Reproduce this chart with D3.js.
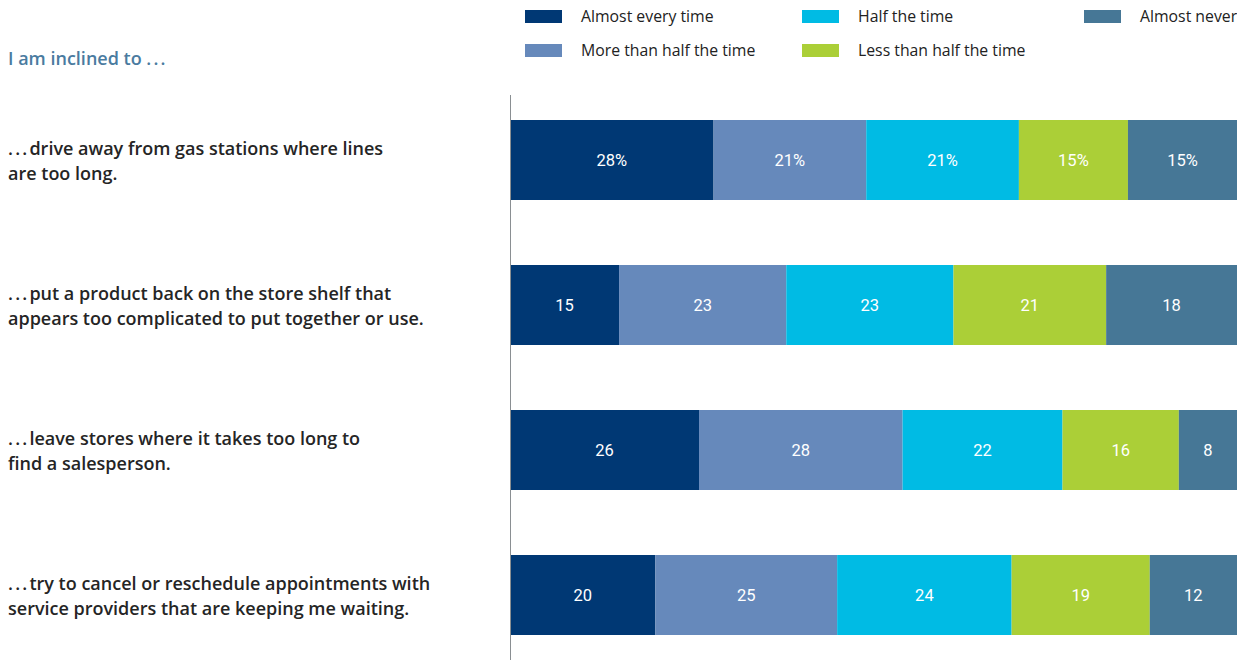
<!DOCTYPE html>
<html>
<head>
<meta charset="utf-8">
<script src="https://cdn.jsdelivr.net/npm/d3@7"></script>
<style>
  body { margin: 0; background: #fff; }
  svg { display: block; }
  .row-label { font-family: "Open Sans", sans-serif; font-weight: 600; font-size: 18px; fill: #252525; }
  .title { font-family: "Open Sans", sans-serif; font-weight: 600; font-size: 18px; fill: #4a7ba0; }
  .legend-text { font-family: "Open Sans", sans-serif; font-size: 15.8px; fill: #222; }
  .value { font-family: Roboto, sans-serif; font-size: 16.5px; fill: #fff; }
  .dots { letter-spacing: 2.2px; }
</style>
</head>
<body>
<svg id="chart" width="1237" height="660" viewBox="0 0 1237 660"></svg>
<script>
// categories (question rows, two lines each; leading dots are added when drawn)
const questions = [
    ["drive away from gas stations where lines", "are too long."],
    ["put a product back on the store shelf that", "appears too complicated to put together or use."],
    ["leave stores where it takes too long to", "find a salesperson."],
    ["try to cancel or reschedule appointments with", "service providers that are keeping me waiting."]
];

const answers = ["Almost every time", "More than half the time", "Half the time", "Less than half the time", "Almost never"];
const colors = ["#003874", "#6689bb", "#00bbe4", "#abcf37", "#467796"];

// series values, one array per answer (percent)
const almostEvery   = [28, 15, 26, 20];
const moreThanHalf  = [21, 23, 28, 25];
const halfTime      = [21, 23, 22, 24];
const lessThanHalf  = [15, 21, 16, 19];
const almostNever   = [15, 18, 8, 12];

const series = [almostEvery, moreThanHalf, halfTime, lessThanHalf, almostNever];

const svg = d3.select("#chart");

const rows = questions.map((q, i) => {
    const row = { idx: i };
    answers.forEach((a, j) => { row[a] = series[j][i]; });
    return row;
});

const stacked = d3.stack().keys(answers)(rows);

const x = d3.scaleLinear().domain([0, 100]).range([510, 1237]);
const y = d3.scaleBand()
    .domain(d3.range(questions.length))
    .range([87.5, 667.5])
    .paddingInner(65 / 145)
    .paddingOuter(32.5 / 145);

// Title
const title = svg.append("text")
    .attr("class", "title")
    .attr("x", 8)
    .attr("y", 65);
title.append("tspan").text("I am inclined to ");
title.append("tspan").attr("class", "dots").text("...");

// Legend (three columns, two rows)
const legendPos = [
    [525, 16.5], [525, 50.5], [802, 16.5], [802, 50.5], [1084, 16.5]
];
const legend = svg.append("g").attr("class", "legend");
answers.forEach((a, j) => {
    const g = legend.append("g").attr("transform", `translate(${legendPos[j][0]},${legendPos[j][1]})`);
    g.append("rect").attr("x", 0).attr("y", -6.5).attr("width", 37).attr("height", 13).attr("fill", colors[j]);
    g.append("text").attr("class", "legend-text").attr("x", 56).attr("y", 0).attr("dy", "0.35em").text(a);
});

// Bars
const layers = svg.append("g").selectAll("g")
    .data(stacked)
    .join("g")
    .attr("fill", (d, j) => colors[j]);

layers.selectAll("rect")
    .data(d => d)
    .join("rect")
    .attr("x", d => x(d[0]))
    .attr("y", (d, i) => y(i))
    .attr("width", d => x(d[1]) - x(d[0]))
    .attr("height", y.bandwidth());

layers.selectAll("text")
    .data((d, j) => d.map(v => ({ v, j })))
    .join("text")
    .attr("class", "value")
    .attr("text-anchor", "middle")
    .attr("x", d => (x(d.v[0]) + x(d.v[1])) / 2)
    .attr("y", (d, i) => y(i) + y.bandwidth() / 2)
    .attr("dy", "0.35em")
    .text((d, i) => {
        const val = d.v[1] - d.v[0];
        return i === 0 ? val + "%" : val;
    });

// Vertical axis line
svg.append("line")
    .attr("x1", 510.5).attr("x2", 510.5)
    .attr("y1", 95).attr("y2", 660)
    .attr("stroke", "#8a8f92")
    .attr("stroke-width", 1);

// Row labels
const labels = svg.append("g").selectAll("text")
    .data(questions)
    .join("text")
    .attr("class", "row-label")
    .attr("x", 8)
    .attr("y", (d, i) => y(i) + y.bandwidth() / 2 - 5);

labels.each(function(d) {
    const t = d3.select(this);
    t.append("tspan").attr("x", 8).attr("class", "dots").text("...");
    t.append("tspan").text(d[0]);
    t.append("tspan").attr("x", 8).attr("dy", 24.5).text(d[1]);
});
</script>
</body>
</html>
